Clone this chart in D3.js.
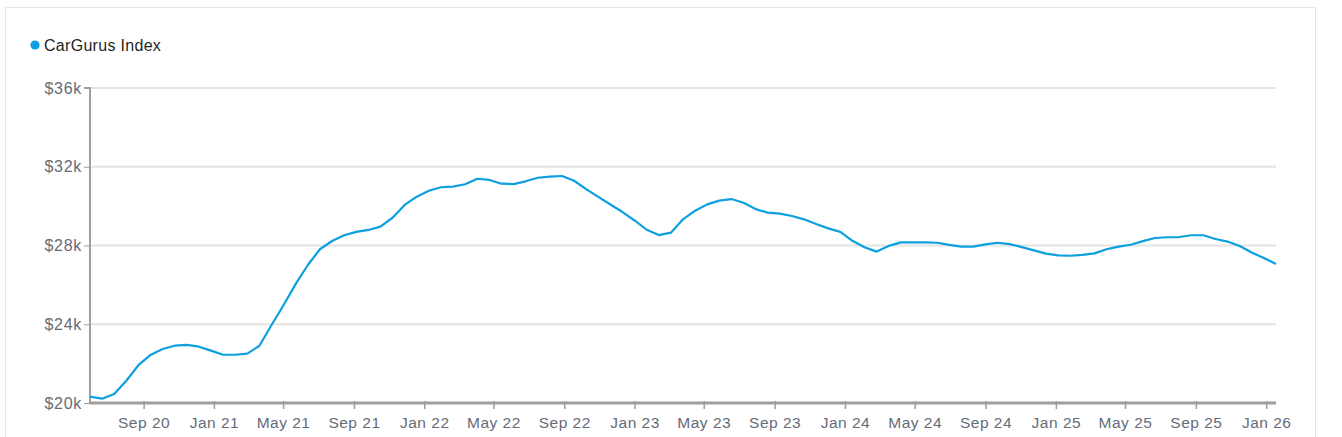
<!DOCTYPE html>
<html>
<head>
<meta charset="utf-8">
<script src="https://cdn.jsdelivr.net/npm/d3@7"></script>
<style>
	body { margin: 0; background: #fff; font-family: "Liberation Sans", Arial, sans-serif; }
	.card { position: absolute; left: 5px; top: 7px; width: 1309px; height: 440px; border: 1px solid #e6e6e6; border-bottom: none; }
	.axis text { fill: #656c78; font-size: 15.5px; letter-spacing: .5px; font-family: "Liberation Sans", Arial, sans-serif; }
	.axis.y text { font-size: 16px; letter-spacing: .7px; }
	.axis path, .axis line { stroke: #9e9e9e; }
</style>
</head>
<body>
<div class="card"></div>
<div id="chart"></div>
<script>
// CarGurus Index, one point every 3 weeks
var dates = [
	"2020-05-31","2020-06-21","2020-07-12","2020-08-02","2020-08-23","2020-09-13","2020-10-04","2020-10-25","2020-11-15","2020-12-06","2020-12-27",
	"2021-01-17","2021-02-07","2021-02-28","2021-03-21","2021-04-11","2021-05-02","2021-05-23","2021-06-13","2021-07-04","2021-07-25","2021-08-15","2021-09-05","2021-09-26","2021-10-17","2021-11-07","2021-11-28","2021-12-19",
	"2022-01-09","2022-01-30","2022-02-20","2022-03-13","2022-04-03","2022-04-24","2022-05-15","2022-06-05","2022-06-26","2022-07-17","2022-08-07","2022-08-28","2022-09-18","2022-10-09","2022-10-30","2022-11-20","2022-12-11",
	"2023-01-01","2023-01-22","2023-02-12","2023-03-05","2023-03-26","2023-04-16","2023-05-07","2023-05-28","2023-06-18","2023-07-09","2023-07-30","2023-08-20","2023-09-10","2023-10-01","2023-10-22","2023-11-12","2023-12-03","2023-12-24",
	"2024-01-14","2024-02-04","2024-02-25","2024-03-17","2024-04-07","2024-04-28","2024-05-19","2024-06-09","2024-06-30","2024-07-21","2024-08-11","2024-09-01","2024-09-22","2024-10-13","2024-11-03","2024-11-24","2024-12-15",
	"2025-01-05","2025-01-26","2025-02-16","2025-03-09","2025-03-30","2025-04-20","2025-05-11","2025-06-01","2025-06-22","2025-07-13","2025-08-03","2025-08-24","2025-09-14","2025-10-05","2025-10-26","2025-11-16","2025-12-07","2025-12-28",
	"2026-01-18"
];
var prices = [
	20320,20220,20460,21130,21920,22440,22740,22910,22950,22860,22660,
	22450,22450,22510,22910,23960,24980,26050,27010,27810,28230,28520,28690,28790,28960,29410,30060,30480,
	30780,30960,30990,31110,31390,31330,31140,31120,31260,31440,31500,31530,31290,30860,30470,30080,29700,
	29270,28800,28530,28650,29330,29770,30090,30280,30360,30170,29850,29670,29620,29500,29330,29090,28870,28690,
	28240,27910,27690,27980,28160,28160,28160,28140,28030,27940,27940,28060,28140,28070,27920,27750,27590,
	27500,27480,27520,27600,27810,27940,28040,28220,28380,28420,28430,28520,28520,28330,28200,27970,27640,27360,
	27060
];
var yTicks = [20000, 24000, 28000, 32000, 36000];
var seriesName = "CarGurus Index";

const
	W = 1342, H = 437,
	LEFT = 90, RIGHT = 1276, TOP = 88, BOTTOM = 403,
	LINE_COLOR = "#0ca0e0";

var parse = d3.timeParse("%Y-%m-%d");
var data = dates.map(function(d, i){ return {date: parse(d), value: prices[i]}; });

var svg = d3.select("#chart")
	.append("svg")
	.attr("width", W)
	.attr("height", H)
	.style("position", "absolute")
	.style("left", 0).style("top", 0);

var x = d3.scaleTime()
	.domain([parse(dates[0]), parse(dates[dates.length - 1])])
	.range([LEFT, RIGHT]);
var y = d3.scaleLinear()
	.domain([20000, 36000])
	.range([BOTTOM, TOP]);

// gridlines
svg.append("g")
	.selectAll("line")
	.data(yTicks.slice(1))
	.enter()
	.append("line")
	.attr("x1", LEFT).attr("x2", RIGHT)
	.attr("y1", function(d){ return y(d); })
	.attr("y2", function(d){ return y(d); })
	.attr("stroke", "#e3e3e3")
	.attr("stroke-width", 2);

var yAxis = d3.axisLeft(y)
	.tickValues(yTicks)
	.tickSize(6)
	.tickPadding(2)
	.tickFormat(function(d){ return "$" + (d / 1000) + "k"; });
svg.append("g")
	.attr("class", "axis y")
	.attr("transform", "translate(" + LEFT + ",0)")
	.call(yAxis)
	.call(function(g){ g.select(".domain").attr("stroke-width", 2).attr("d", "M-6," + TOP + "H0V" + BOTTOM); });

var xAxis = d3.axisBottom(x)
	.ticks(d3.timeMonth.every(4))
	.tickSize(6)
	.tickPadding(3)
	.tickFormat(d3.timeFormat("%b %y"));
svg.append("g")
	.attr("class", "axis")
	.attr("transform", "translate(0," + BOTTOM + ")")
	.call(xAxis)
	.call(function(g){
		g.select(".domain").attr("stroke-width", 3).attr("d", "M" + LEFT + ",0H" + RIGHT);
		g.selectAll(".tick line").attr("y1", -2).attr("stroke-width", 1.5);
		g.selectAll(".tick text").attr("dy", "1.05em");
	});

var line = d3.line()
	.x(function(d){ return x(d.date); })
	.y(function(d){ return y(d.value); });
svg.append("path")
	.datum(data)
	.attr("d", line)
	.attr("fill", "none")
	.attr("stroke", LINE_COLOR)
	.attr("stroke-width", 2.2)
	.attr("stroke-linejoin", "round");

// legend
var legend = svg.append("g").attr("transform", "translate(35,45)");
legend.append("circle").attr("r", 4.6).attr("fill", LINE_COLOR);
legend.append("text")
	.attr("x", 9).attr("y", 5.5)
	.attr("fill", "#1f1f1f")
	.style("font-size", "16px")
	.style("letter-spacing", ".3px")
	.text(seriesName);
</script>
</body>
</html>
